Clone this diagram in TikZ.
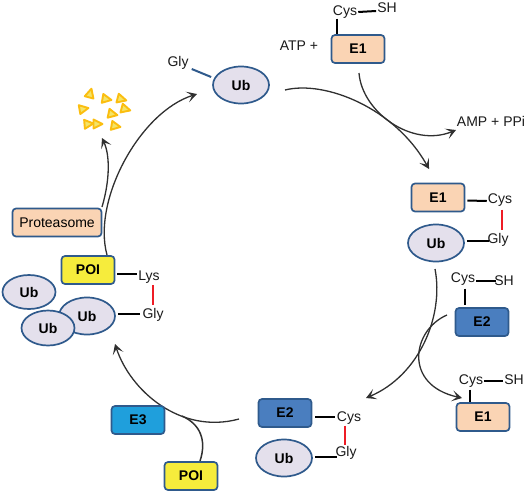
\documentclass[tikz,border=0pt]{standalone}
\usepackage{fontspec}
\setmainfont{Liberation Sans}
\usetikzlibrary{arrows.meta,shapes.geometric}
\definecolor{edgeblue}{HTML}{2F5A8C}
\definecolor{ubfill}{HTML}{E4E0EC}
\definecolor{eonefill}{HTML}{FAD4B4}
\definecolor{etwofill}{HTML}{4A7EBF}
\definecolor{ethreefill}{HTML}{1F9FDC}
\definecolor{poifill}{HTML}{F6EC3C}
\definecolor{curve}{HTML}{303030}
\definecolor{bondred}{HTML}{EE1C25}
\definecolor{triedge}{HTML}{FBBE10}
\definecolor{trifill}{HTML}{F4E468}
\tikzset{
  x=1pt,y=-1pt,
  boxbase/.style={draw=edgeblue,line width=1.7pt,rounded corners=3.5pt,minimum width=53pt,minimum height=28pt,inner sep=0pt,font=\fontsize{14}{14}\selectfont\bfseries},
  eone/.style={boxbase,fill=eonefill},
  etwo/.style={boxbase,fill=etwofill},
  ethree/.style={boxbase,fill=ethreefill},
  poi/.style={boxbase,fill=poifill},
  ub/.style={draw=edgeblue,line width=1.7pt,fill=ubfill,ellipse,minimum width=56pt,minimum height=37pt,inner sep=0pt,font=\fontsize{14}{14}\selectfont\bfseries},
  lab/.style={inner sep=0pt,font=\fontsize{14}{14}\selectfont,text=black!90},
  bond/.style={line width=2pt,black},
  redbond/.style={line width=2pt,bondred},
  arc/.style={line width=1.3pt,curve,-{Stealth[length=10pt,width=11pt,inset=5pt]}},
  plain/.style={line width=1.5pt,curve},
  tri/.style={draw=triedge,fill=trifill,line width=1.9pt,line join=round},
}
\begin{document}
\begin{tikzpicture}
\useasboundingbox (0,0) rectangle (526,493);

% free ends of the cycle arrows
\coordinate (s1) at (285,90);   \coordinate (t1) at (429,169);
\coordinate (s2) at (359,73);   \coordinate (t2) at (456,130);
\coordinate (s3) at (435,269);  \coordinate (t3) at (366,398);
\coordinate (s4) at (447,315);  \coordinate (t4) at (462,398);
\coordinate (s5) at (239,419);  \coordinate (t5) at (115,344);
\coordinate (s6) at (107,255);  \coordinate (t6) at (197,94);
\coordinate (s7) at (102,207);  \coordinate (t7) at (102,138);
\coordinate (s8) at (200,461);  \coordinate (t8) at (182,416);

% curves
\draw[arc] (s1) .. controls (325,80) and (395,108) .. (t1);
\draw[arc] (s2) .. controls (362,112) and (412,148) .. (t2);
\draw[arc] (s3) .. controls (444,315) and (420,375) .. (t3);
\draw[arc] (s4) .. controls (412,330) and (403,385) .. (t4);
\draw[arc] (s5) .. controls (180,435) and (130,390) .. (t5);
\draw[arc] (s6) .. controls (92,200) and (140,112) .. (t6);
\draw[arc] (s7) .. controls (110,180) and (110,155) .. (t7);
\draw[plain] (s8) .. controls (207,440) and (200,424) .. (t8);

% top Ub
\node[ub] (ubtop) at (241,85) {Ub};
\node[lab] (glytop) at (178,63) {Gly};
\draw[line width=2pt,edgeblue] ([shift={(-1,-8)}]ubtop.west) -- ([shift={(3,6)}]glytop.east);

% triangles
\foreach \cx/\cy/\ang in {90/94/75, 106/99/-10, 121/99/-15, 83/109/10, 125/109/-15, 112/114/-12, 88/124/5, 97/124/0, 115/126/-10}
  \draw[tri,shift={(\cx,\cy)},rotate=\ang] (5.5,0) -- (-3.5,-4.5) -- (-3.5,4.5) -- cycle;

% proteasome
\node[eone,minimum width=89pt,font=\fontsize{14}{14}\selectfont] (prot) at (57,222.5) {Proteasome};

% E1 top
\node[eone] (eonea) at (358,49) {E1};
\node[lab] (cysa) at (345,12) {Cys};
\node[lab] (sha) at (387,8) {SH};
\node[lab] (atp) at (299,46) {ATP +};
\node[lab] (amp) at (491,121) {AMP + PPi};
\draw[bond] ([xshift=-8]cysa.south) -- ([shift={(-21,0)}]eonea.north);
\draw[bond] ([shift={(1,0)}]cysa.east) -- ([shift={(-1,3)}]sha.west);

% E1-Ub
\node[eone] (eoneb) at (438,197.5) {E1};
\node[lab] (cysb) at (500,200) {Cys};
\node[ub] (ubb) at (436,243) {Ub};
\node[lab] (glyb) at (498,240) {Gly};
\draw[bond] ([shift={(2,3)}]eoneb.east) -- ([shift={(-1,1)}]cysb.west);
\draw[bond] ([shift={(2,-2)}]ubb.east) -- ([shift={(2,1)}]glyb.west);
\draw[redbond] ([shift={(2,3)}]cysb.south) -- ([shift={(4,-3)}]glyb.north);

% E2 right
\node[etwo] (etwoa) at (482,322) {E2};
\node[lab] (cysc) at (463,279) {Cys};
\node[lab] (shc) at (504,281) {SH};
\draw[bond] ([shift={(2,3)}]cysc.south) -- ([shift={(-17,-2)}]etwoa.north);
\draw[bond] ([shift={(1,2)}]cysc.east) -- ([shift={(2,0)}]shc.west);

% E1 lower right
\node[eone] (eonec) at (483,417) {E1};
\node[lab] (cysd) at (471,381) {Cys};
\node[lab] (shd) at (514,380) {SH};
\draw[bond] ([shift={(-1,2)}]cysd.south) -- ([shift={(-13,0)}]eonec.north);
\draw[bond] ([shift={(1,0)}]cysd.east) -- ([shift={(-1,1)}]shd.west);

% E2-Ub bottom
\node[etwo] (etwob) at (285,413) {E2};
\node[lab] (cyse) at (349,418) {Cys};
\node[ub] (ube) at (284,458) {Ub};
\node[lab] (glye) at (346,453) {Gly};
\draw[bond] ([shift={(3,4)}]etwob.east) -- ([shift={(-2,-1)}]cyse.west);
\draw[bond] ([shift={(2,-1)}]ube.east) -- ([shift={(2,4)}]glye.west);
\draw[redbond] ([shift={(-4,1)}]cyse.south) -- ([shift={(-1,-1)}]glye.north);

% E3 + POI
\node[ethree] (ethree) at (138,420) {E3};
\node[poi] (poib) at (191,476) {POI};

% POI-Ub chain
\node[poi] (poia) at (88,270) {POI};
\node[lab] (lys) at (149,277) {Lys};
\node[lab] (glyf) at (153,315) {Gly};
\node[ub,minimum width=53pt,minimum height=34pt] (uba) at (29,292) {Ub};
\node[ub] (ubf) at (87,316) {Ub};
\node[ub,minimum width=53pt,minimum height=35pt] (ubc) at (48,328) {Ub};
\draw[bond] ([shift={(2,4)}]poia.east) -- ([shift={(-1,-3)}]lys.west);
\draw[bond] ([shift={(2,-2)}]ubf.east) -- ([shift={(-2,-1)}]glyf.west);
\draw[redbond] ([shift={(4,2)}]lys.south) -- ([shift={(0,-3)}]glyf.north);
\end{tikzpicture}
\end{document}
